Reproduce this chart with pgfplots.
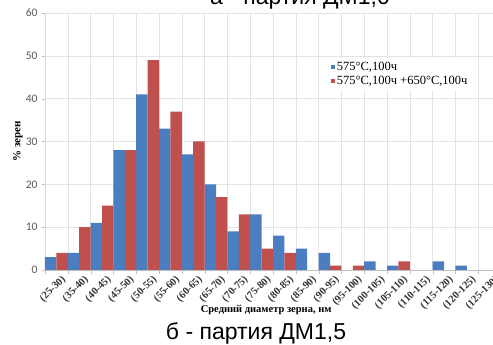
\documentclass[border=0pt]{standalone}
\usepackage{fontspec}
\setmainfont{Liberation Serif}
\newfontfamily\carlito{Carlito}
\newfontfamily\arialf{Liberation Sans}
\usepackage{pgfplots}
\pgfplotsset{compat=1.18}
\definecolor{xblue}{RGB}{74,126,193}
\definecolor{xred}{RGB}{192,80,77}
\begin{document}
\begin{tikzpicture}
\useasboundingbox (0,0) rectangle (493pt,345pt);
\clip (0,0) rectangle (493pt,345pt);
\begin{axis}[
  at={(45pt,75pt)}, anchor=south west,
  scale only axis, width=456pt, height=257pt,
  xmin=-0.5, xmax=19.5, ymin=0, ymax=60,
  ytick={0,10,...,60},
  xtick={0,...,19},
  xticklabels={(25-30),(35-40),(40-45),(45-50),(50-55),(55-60),(60-65),(65-70),(70-75),(75-80),(80-85),(85-90),(90-95),(95-100),(100-105),(105-110),(110-115),(115-120),(120-125),(125-130)},
  minor xtick={-0.5,0.5,...,19.5},
  xminorgrids=true, ymajorgrids=true,
  grid style={gray!22, line width=0.6pt},
  minor grid style={gray!22, line width=0.6pt},
  axis x line*=bottom, axis y line*=left,
  x axis line style={gray!50, -},
  y axis line style={gray!30, -},
  major x tick style={draw=none},
  minor x tick style={gray!50},
  minor tick length=4pt,
  major tick length=3pt,
  tick align=outside,
  ytick style={gray!50},
  /pgf/number format/assume math mode=true,
  yticklabel style={font=\carlito\fontsize{11.5}{12}\selectfont, text=black!65, xshift=-1pt},
  xticklabel style={rotate=45, anchor=north east, font=\bfseries\fontsize{10.5}{11}\selectfont, text=black!80, inner sep=1pt, xshift=3pt, yshift=-3pt},
  xlabel={Средний диаметр зерна, нм},
  ylabel={\% зерен},
  xlabel style={at={(axis description cs:0.485,0)}, anchor=base, yshift=-43pt, font=\bfseries\fontsize{10.5}{12}\selectfont},
  ylabel style={at={(axis description cs:-0.0592,0.5)}, anchor=center, font=\bfseries\fontsize{11}{12}\selectfont},
  ybar=0pt, bar width=0.5,
  legend style={at={(axis description cs:0.622,0.825)}, anchor=north west, fill=white, draw=none,
    font=\fontsize{12.5}{14}\selectfont, row sep=0pt, inner sep=2pt},
  legend cell align=left,
  legend image code/.code={\fill (1pt,-2pt) rectangle (5pt,2pt);},
]
\addplot[fill=xblue, draw=none, bar shift=-0.25] coordinates {
 (0,3) (1,4) (2,11) (3,28) (4,41) (5,33) (6,27) (7,20) (8,9) (9,13)
 (10,8) (11,5) (12,4) (14,2) (15,1) (17,2) (18,1)};
\addplot[fill=xred, draw=none, bar shift=0.25] coordinates {
 (0,4) (1,10) (2,15) (3,28) (4,49) (5,37) (6,30) (7,17) (8,13) (9,5)
 (10,4) (12,1) (13,1) (15,2)};
\legend{{575°C,100ч}, {575°C,100ч +650°C,100ч}}
\end{axis}
\node[anchor=base, font=\arialf\fontsize{23}{26}\selectfont] at (256pt,5pt) {б - партия ДМ1,5};
\node[anchor=base, font=\arialf\fontsize{23}{26}\selectfont] at (300pt,340pt) {а - партия ДМ1,0};
\end{tikzpicture}
\end{document}
